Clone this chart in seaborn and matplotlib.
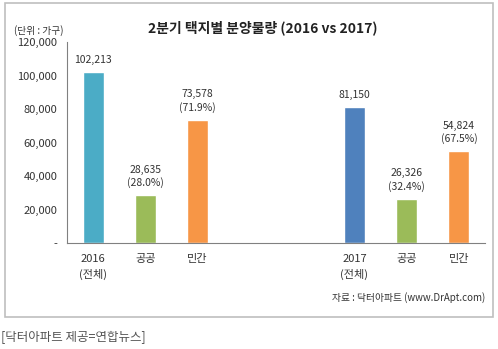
import matplotlib
matplotlib.use("Agg")
import matplotlib.pyplot as plt
import seaborn as sns
import pandas as pd
from matplotlib.patches import Rectangle
from matplotlib.ticker import FixedLocator

sns.set_theme(style="white")
plt.rcParams['font.family'] = ['Noto Sans CJK KR', 'DejaVu Sans']

# ---- data ----
slots = ["2016_all", "2016_pub", "2016_pri", "gap1", "gap2", "2017_all", "2017_pub", "2017_pri"]
slot_labels = ["2016\n(전체)", "공공", "민간", "", "", "2017\n(전체)", "공공", "민간"]
bar_keys = ["2016_all", "2016_pub", "2016_pri", "2017_all", "2017_pub", "2017_pri"]
values = [102213, 28635, 73578, 81150, 26326, 54824]
value_labels = ["102,213", "28,635\n(28.0%)", "73,578\n(71.9%)",
                "81,150", "26,326\n(32.4%)", "54,824\n(67.5%)"]
colors = ["#4BACC6", "#9BBB59", "#F79646", "#4F81BD", "#9BBB59", "#F79646"]
y_ticks = [0, 20000, 40000, 60000, 80000, 100000, 120000]
y_tick_labels = ["-", "20,000", "40,000", "60,000", "80,000", "100,000", "120,000"]

df = pd.DataFrame({"slot": bar_keys, "value": values})

fig = plt.figure(figsize=(4.98, 3.49), dpi=100)
fig.patch.set_facecolor("white")
ax = fig.add_axes([67/498, 1-243/349, (485-67)/498, (243-42)/349])

sns.barplot(data=df, x="slot", y="value", hue="slot", order=slots,
            hue_order=bar_keys, palette=colors, width=0.4, dodge=False,
            legend=False, ax=ax, saturation=1)

ax.set_ylim(0, 120000)
ax.set_xlim(-0.5, len(slots) - 0.5)
ax.set_yticks(y_ticks)
ax.set_yticklabels(y_tick_labels, fontsize=8, color="#333333")
ax.set_xticks(range(len(slots)))
ax.set_xticklabels(slot_labels, fontsize=8, color="#333333", linespacing=1.5)
ax.tick_params(axis="x", which="major", length=0, pad=8)
ax.xaxis.set_minor_locator(FixedLocator([i - 0.5 for i in range(len(slots) + 1)]))
ax.tick_params(axis="x", which="minor", length=4, color="#808080", direction="out")
ax.tick_params(axis="y", which="major", length=4, color="#808080", direction="out", pad=3)
ax.set_xlabel("")
ax.set_ylabel("")
for s in ["top", "right"]:
    ax.spines[s].set_visible(False)
for s in ["left", "bottom"]:
    ax.spines[s].set_color("#808080")
    ax.spines[s].set_linewidth(0.8)

# value labels
for cont in ax.containers:
    for bar in cont:
        h = bar.get_height()
        if h != h or h == 0:
            continue
        cx = bar.get_x() + bar.get_width() / 2
        idx = int(round(cx))
        key = slots[idx]
        lab = value_labels[bar_keys.index(key)]
        ax.annotate(lab, (cx, h), xytext=(0, 5), textcoords="offset points",
                    ha="center", va="bottom", fontsize=7.5, color="#333333",
                    linespacing=1.3)

# frame
fig.patches.append(Rectangle((5/498, 1-317/349), 488/498, 314/349,
                             transform=fig.transFigure, fill=False,
                             edgecolor="#BFBFBF", linewidth=1.2))

fig.text(263/498, 1-28/349, "2분기 택지별 분양물량 (2016 vs 2017)",
         ha="center", va="center", fontsize=10, fontweight="bold", color="#222222")
fig.text(14/498, 1-31/349, "(단위 : 가구)", ha="left", va="center",
         fontsize=7, color="#333333")
fig.text(485/498, 1-298/349, "자료 : 닥터아파트 (www.DrApt.com)", ha="right",
         va="center", fontsize=7, color="#333333")
fig.text(1/498, 1-337/349, "[닥터아파트 제공=연합뉴스]", ha="left",
         va="center", fontsize=9, color="#555555")

fig.savefig("out.png", dpi=100)
